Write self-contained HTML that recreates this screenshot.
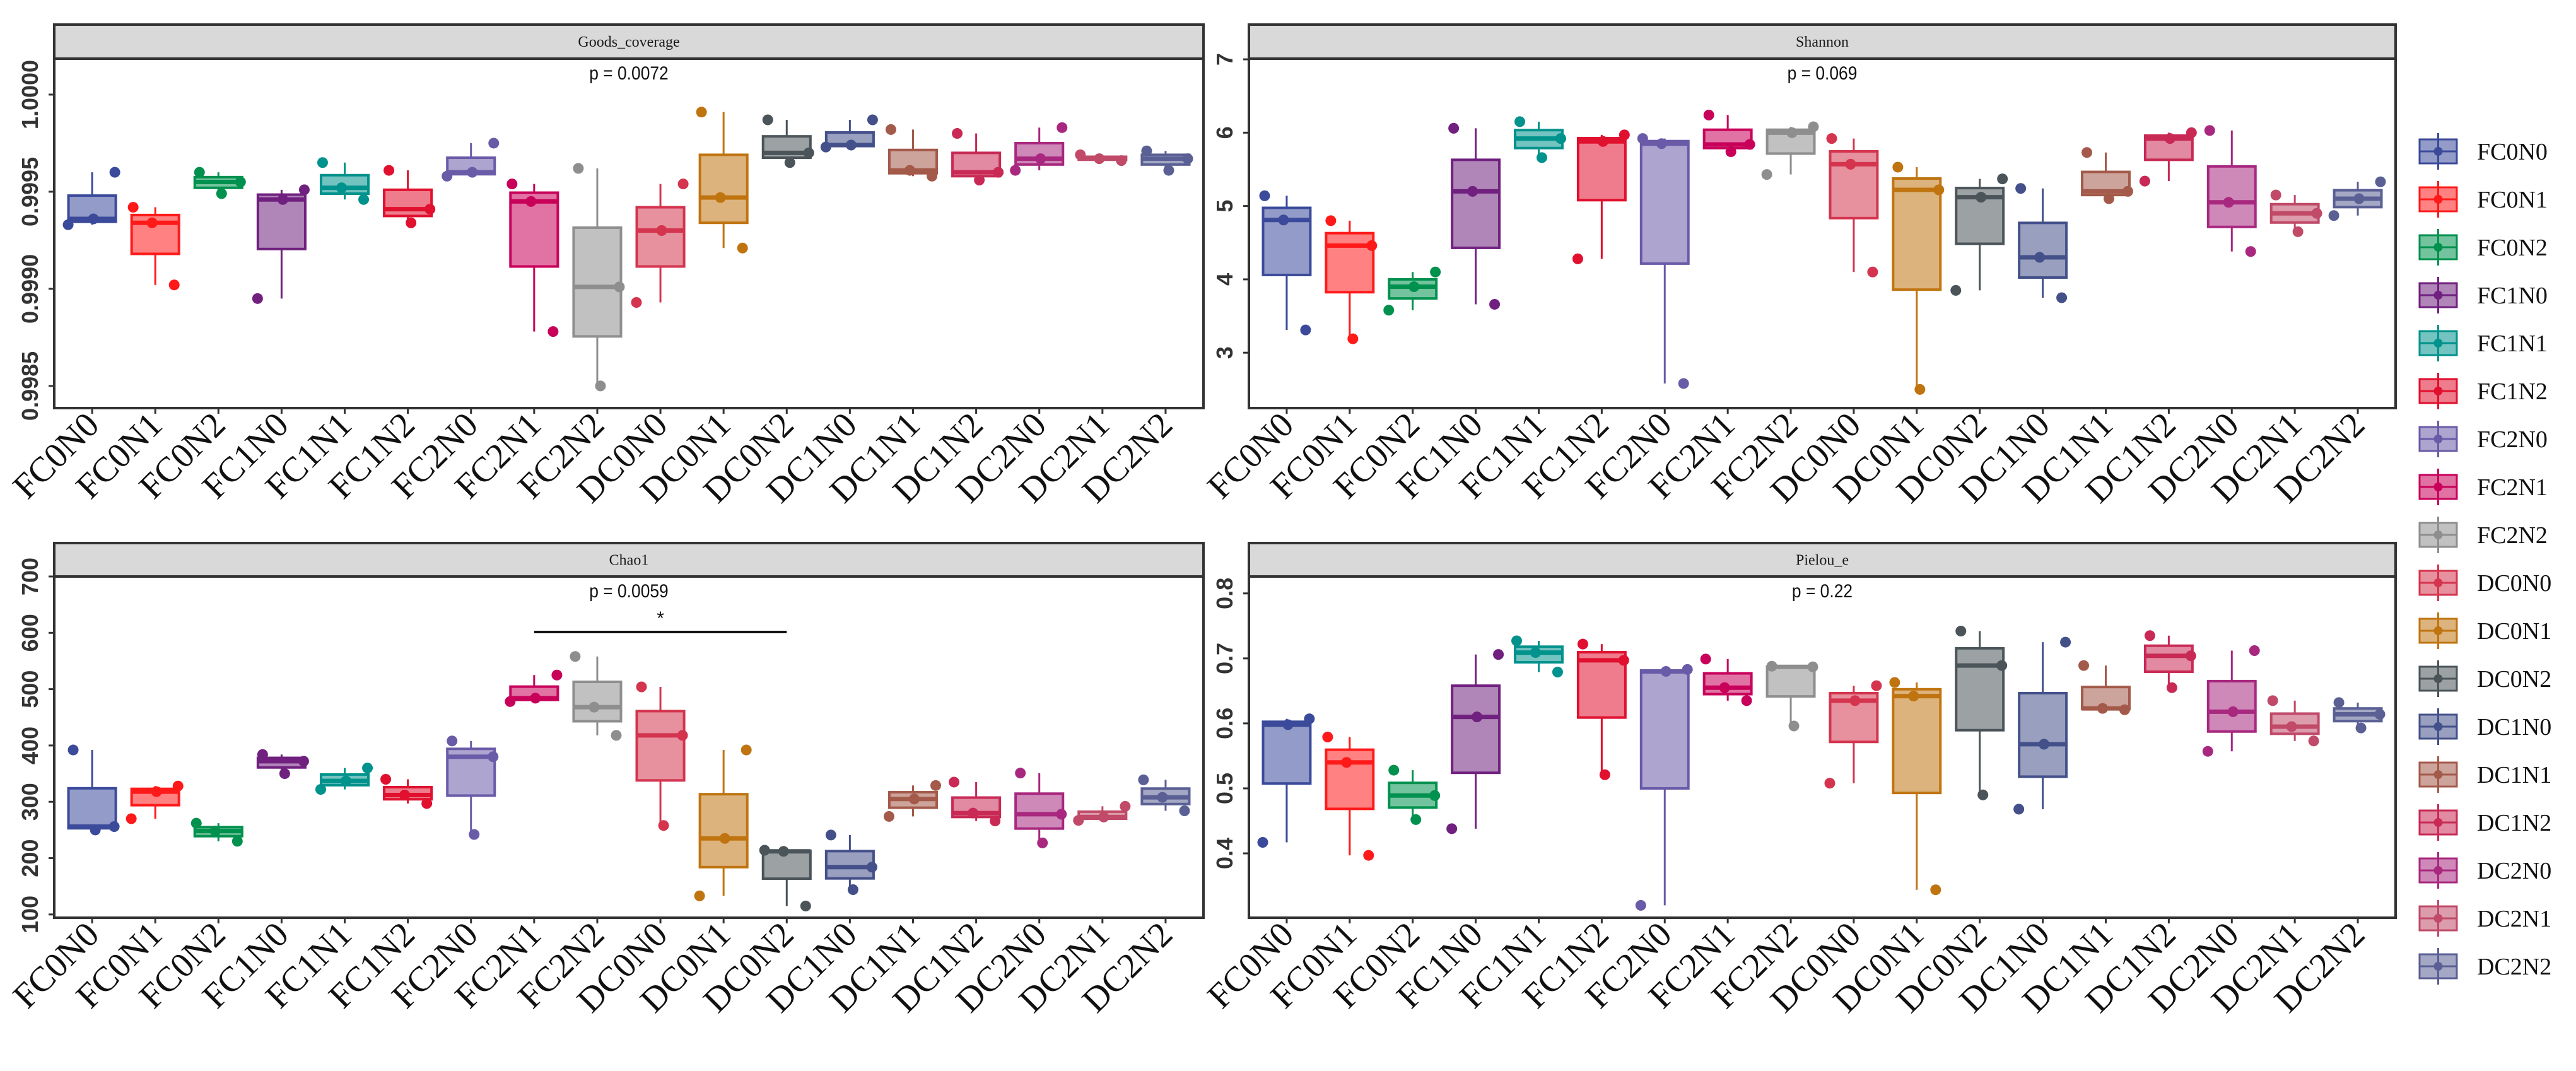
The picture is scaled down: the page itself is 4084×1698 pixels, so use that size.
<!DOCTYPE html>
<html><head><meta charset="utf-8"><style>
html,body{margin:0;padding:0;background:#fff;}
svg{display:block;}
</style></head><body>
<svg id="chart" xmlns="http://www.w3.org/2000/svg" width="4084" height="1698" viewBox="0 0 4084 1698"></svg>
<script>
const categories = ["FC0N0","FC0N1","FC0N2","FC1N0","FC1N1","FC1N2","FC2N0","FC2N1","FC2N2","DC0N0","DC0N1","DC0N2","DC1N0","DC1N1","DC1N2","DC2N0","DC2N1","DC2N2"];
const colors = ["#3B4A9A","#FF1A1A","#00914E","#70207E","#00928C","#E0102E","#6A5BA8","#C8005A","#8E8E8E","#D4344E","#C07410","#4A5459","#44508A","#A45A4A","#C82A55","#A8287F","#C04A68","#5A6094"];
// three samples per group: [min, median, max]
const goodsSamples = [[.99933,.99936,.99960],[.99902,.99934,.99942],[.99949,.99955,.99960],[.99895,.99946,.99951],[.99946,.99952,.99965],[.99934,.99941,.99961],[.99958,.99960,.99975],[.99878,.99945,.99954],[.99850,.99901,.99962],[.99893,.99930,.99954],[.99921,.99947,.99991],[.99965,.99970,.99987],[.99973,.99974,.99987],[.99958,.99961,.99982],[.99956,.99960,.99980],[.99961,.99967,.99983],[.99966,.99967,.99969],[.99961,.99967,.99971]];
const shannonSamples = [[3.31,4.81,5.14],[3.19,4.46,4.80],[3.58,3.90,4.10],[3.66,5.20,6.06],[5.66,5.92,6.15],[4.28,5.88,5.97],[2.58,5.85,5.92],[5.74,5.84,6.24],[5.43,6.00,6.08],[4.10,5.57,5.92],[2.50,5.22,5.53],[3.85,5.12,5.37],[3.75,4.30,5.24],[5.10,5.20,5.73],[5.34,5.92,6.00],[4.38,5.05,6.03],[4.65,4.90,5.15],[4.87,5.10,5.33]];
const chaoSamples = [[250,256,392],[270,318,328],[230,248,262],[350,372,384],[322,337,360],[297,312,340],[242,380,408],[478,484,525],[418,468,558],[258,418,504],[133,235,392],[115,212,214],[144,184,241],[274,305,329],[266,280,335],[227,278,351],[267,273,292],[284,308,339]];
const pielouSamples = [[.417,.598,.607],[.397,.540,.579],[.452,.489,.528],[.438,.610,.706],[.679,.709,.727],[.521,.697,.722],[.320,.680,.683],[.635,.655,.699],[.596,.687,.688],[.508,.635,.658],[.344,.642,.663],[.490,.689,.742],[.468,.568,.725],[.621,.623,.689],[.655,.704,.735],[.557,.618,.712],[.573,.595,.635],[.593,.614,.632]];
const goodsTicks = [0.9985,0.9990,0.9995,1.0000];
const goodsTickLabels = ["0.9985","0.9990","0.9995","1.0000"];
const shannonTicks = [3,4,5,6,7];
const shannonTickLabels = ["3","4","5","6","7"];
const chaoTicks = [100,200,300,400,500,600,700];
const chaoTickLabels = ["100","200","300","400","500","600","700"];
const pielouTicks = [0.4,0.5,0.6,0.7,0.8];
const pielouTickLabels = ["0.4","0.5","0.6","0.7","0.8"];
const pLabels = ["p = 0.0072","p = 0.069","p = 0.0059","p = 0.22"];

const NS="http://www.w3.org/2000/svg";
const svg=document.getElementById('chart');
function mk(tag,attrs,parent){const e=document.createElementNS(NS,tag);for(const k in attrs)e.setAttribute(k,attrs[k]);(parent||svg).appendChild(e);return e;}

const panels=[
 {title:"Goods_coverage",key:"goods",L:86,R:1908,ST:39,T:93,B:647,ymin:0.998386,ymax:1.000185,data:goodsSamples,ticks:goodsTicks,labels:goodsTickLabels,p:pLabels[0]},
 {title:"Shannon",key:"shannon",L:1980,R:3798,ST:39,T:93,B:647,ymin:2.245,ymax:7.009,data:shannonSamples,ticks:shannonTicks,labels:shannonTickLabels,p:pLabels[1]},
 {title:"Chao1",key:"chao1",L:86,R:1908,ST:861,T:914,B:1455,ymin:94.2,ymax:700,data:chaoSamples,ticks:chaoTicks,labels:chaoTickLabels,p:pLabels[2]},
 {title:"Pielou_e",key:"pielou",L:1980,R:3798,ST:861,T:914,B:1455,ymin:0.301,ymax:0.826,data:pielouSamples,ticks:pielouTicks,labels:pielouTickLabels,p:pLabels[3]}
];

panels.forEach((P,pi)=>{
  const g=mk('g',{});
  
  
  const n=categories.length;
  const bw=(P.R-P.L)/(n+0.2);
  const xs=i=>P.L+(i+0.6)*bw;
  const ys=v=>P.B-(v-P.ymin)/(P.ymax-P.ymin)*(P.B-P.T);
  const strip=mk('rect',{x:P.L,y:P.ST,width:P.R-P.L,height:P.T-P.ST,fill:'#D9D9D9',stroke:'#333',"stroke-width":4},g);
  
  
  const st=mk('text',{x:(P.L+P.R)/2,y:(P.ST+P.T)/2+8,"text-anchor":"middle","font-family":"Liberation Serif, serif","font-size":24,fill:'#1a1a1a'},g);
  st.textContent=P.title;
  
  
  const bg=mk('rect',{x:P.L,y:P.T,width:P.R-P.L,height:P.B-P.T,fill:'#fff'},g);
  
  
  P.ticks.forEach((t,k)=>{
    const y=ys(t);
    const tl=mk('line',{x1:P.L-9,x2:P.L,y1:y,y2:y,stroke:'#333',"stroke-width":3},g);
    
    
    const tx=mk('text',{x:P.L-26,y:y,transform:`rotate(-90 ${P.L-26} ${y})`,"text-anchor":"middle","font-family":"Liberation Sans, sans-serif","font-size":36,"font-weight":"bold",fill:'#333'},g);
    tx.textContent=P.labels[k];
    
    
  });
  categories.forEach((c,i)=>{
    const x=xs(i);
    const tl=mk('line',{x1:x,x2:x,y1:P.B,y2:P.B+9,stroke:'#333',"stroke-width":3},g);
    
    
    const ax=x+14, ay=P.B+30;
    const tx=mk('text',{x:ax,y:ay,transform:`rotate(-45 ${ax} ${ay})`,"text-anchor":"end","font-family":"Liberation Serif, serif","font-size":56,fill:'#111'},g);
    tx.textContent=c;
    
    
  });
  P.data.forEach((s,i)=>{
    const v=[...s].sort((a,b)=>a-b);
    const q1=(v[0]+v[1])/2, med=v[1], q3=(v[1]+v[2])/2;
    const x=xs(i), w=bw*0.75, col=colors[i];
    const bx=mk('g',{},g);
    
    
    mk('line',{x1:x,x2:x,y1:ys(v[2]),y2:ys(q3),stroke:col,"stroke-width":3},bx);
    mk('line',{x1:x,x2:x,y1:ys(q1),y2:ys(v[0]),stroke:col,"stroke-width":3},bx);
    mk('rect',{x:x-w/2,y:ys(q3),width:w,height:Math.max(1,ys(q1)-ys(q3)),fill:col,"fill-opacity":0.55,stroke:col,"stroke-width":4},bx);
    mk('line',{x1:x-w/2,x2:x+w/2,y1:ys(med),y2:ys(med),stroke:col,"stroke-width":7},bx);
    v.forEach((val,k)=>{
      const off=[[-0.38,0.02,0.36],[0.3,-0.05,-0.35],[0.05,0.35,-0.3]][(i+pi)%3][k];
      const c=mk('circle',{cx:x+off*bw,cy:ys(val),r:8.5,fill:col},bx);
      
      
    });
  });
  const br=mk('rect',{x:P.L,y:P.T,width:P.R-P.L,height:P.B-P.T,fill:'none',stroke:'#333',"stroke-width":4},g);
  
  
  const pt=mk('text',{x:(P.L+P.R)/2,y:P.T+33,"text-anchor":"middle","font-family":"Liberation Sans, sans-serif","font-size":30,fill:'#111',transform:`translate(${(P.L+P.R)/2*0.12} 0) scale(0.88 1)`},g);
  pt.textContent=P.p;
  
  
  if(P.key==='chao1'){
    const x1=xs(7), x2=xs(11), yb=P.T+88;
    const sl=mk('line',{x1:x1,x2:x2,y1:yb,y2:yb,stroke:'#111',"stroke-width":4},g);
    
    
    const stx=mk('text',{x:(x1+x2)/2,y:yb-12,"text-anchor":"middle","font-family":"Liberation Sans, sans-serif","font-size":30,fill:'#111'},g);
    stx.textContent='*';
    
    
  }
});

const lg=mk('g',{});


categories.forEach((c,i)=>{
  const y=240+i*76, col=colors[i], x0=3836, x1=3895, xm=(x0+x1)/2;
  const e=mk('g',{},lg);
  
  
  mk('line',{x1:xm,x2:xm,y1:y-29,y2:y+29,stroke:col,"stroke-width":3},e);
  mk('rect',{x:x0,y:y-19,width:x1-x0,height:38,fill:col,"fill-opacity":0.55,stroke:col,"stroke-width":3},e);
  mk('line',{x1:x0,x2:x1,y1:y,y2:y,stroke:col,"stroke-width":3},e);
  mk('circle',{cx:xm,cy:y,r:7,fill:col},e);
  const t=mk('text',{x:3927,y:y+13,"font-family":"Liberation Serif, serif","font-size":38,fill:'#111'},e);
  t.textContent=c;
});
</script>
</body></html>
